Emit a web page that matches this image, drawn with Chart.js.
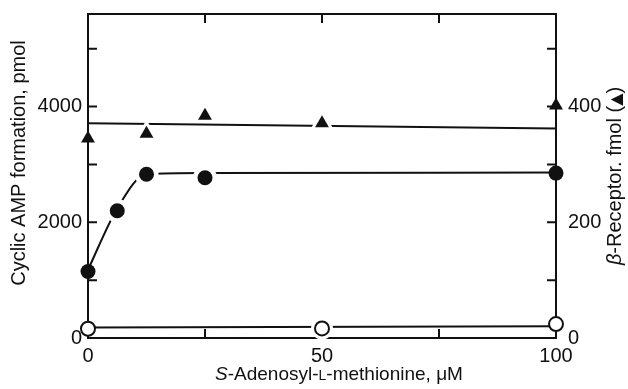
<!DOCTYPE html>
<html><head><meta charset="utf-8">
<script src="https://cdn.jsdelivr.net/npm/chart.js@4/dist/chart.umd.min.js"></script>
<style>html,body{margin:0;padding:0;background:#fff}</style>
</head><body>
<canvas id="c" width="628" height="389"></canvas>
<script>
// ---- data ----
const concX = [0, 6.25, 12.5, 25, 100];          // S-Adenosyl-L-methionine, µM (filled circles)
const cAMP = [1150, 2200, 2830, 2770, 2850];      // cyclic AMP formation, pmol
const receptorX = [0, 12.5, 25, 50, 100];
const receptor = [345, 353, 384, 371, 402];       // β-receptor, fmol (triangles)
const basalX = [0, 50, 100];
const basal = [160, 165, 240];                    // open circles, pmol
const cAMPfitX = [0, 6.25, 12.5, 25, 100];
const cAMPfitY = [1180, 2240, 2830, 2850, 2860];
const receptorFitX = [0, 100];
const receptorFitY = [371, 362];
const basalFitX = [0, 100];
const basalFitY = [180, 205];
// ticks
const xTickVals = [0, 25, 50, 75, 100];
const xLabels = [0, 50, 100];
const yLeftTickVals = [0, 1000, 2000, 3000, 4000, 5000];
const yLeftLabels = [0, 2000, 4000];
const yRightTickVals = [0, 100, 200, 300, 400, 500];
const yRightLabels = [0, 200, 400];

const INK = '#111';
const FONT = 'Liberation Sans, Arial, sans-serif';
const pts = (xs, ys) => xs.map((x, i) => ({x, y: ys[i]}));
const inner = arr => arr.filter(p => p.x > 0 && p.x < 100);

const cAMPpts = pts(concX, cAMP);
const recPts = pts(receptorX, receptor);
const basalPts = pts(basalX, basal);

function drawRich(ctx, parts, cx, cy, angle) {
  ctx.save();
  ctx.translate(cx, cy);
  ctx.rotate(angle);
  ctx.textBaseline = 'alphabetic';
  ctx.textAlign = 'left';
  let total = 0;
  parts.forEach(p => { ctx.font = p.f; p.w = ctx.measureText(p.t).width; total += p.w; });
  let x = -total / 2;
  ctx.fillStyle = INK;
  parts.forEach(p => { ctx.font = p.f; ctx.fillText(p.t, x, 7); x += p.w; });
  ctx.restore();
}

const framePlugin = {
  id: 'frame',
  beforeDatasetsDraw(chart) {
    const {ctx, chartArea: a, scales} = chart;
    ctx.save();
    ctx.strokeStyle = INK; ctx.lineWidth = 2; ctx.lineCap = 'square';
    ctx.beginPath();
    ctx.moveTo(a.left, a.top); ctx.lineTo(a.right, a.top);
    ctx.lineTo(a.right, a.bottom); ctx.lineTo(a.left, a.bottom); ctx.closePath();
    ctx.stroke();
    const L = 9;
    ctx.lineCap = 'butt';
    ctx.beginPath();
    xTickVals.forEach(v => {
      if (v > scales.x.min && v < scales.x.max) {
        const p = scales.x.getPixelForValue(v);
        ctx.moveTo(p, a.bottom); ctx.lineTo(p, a.bottom - L);
        ctx.moveTo(p, a.top); ctx.lineTo(p, a.top + L);
      }
    });
    yLeftTickVals.forEach(v => {
      if (v > scales.y.min && v < scales.y.max) {
        const p = scales.y.getPixelForValue(v);
        ctx.moveTo(a.left, p); ctx.lineTo(a.left + L, p);
      }
    });
    yRightTickVals.forEach(v => {
      if (v > scales.y2.min && v < scales.y2.max) {
        const p = scales.y2.getPixelForValue(v);
        ctx.moveTo(a.right, p); ctx.lineTo(a.right - L, p);
      }
    });
    ctx.stroke();
    ctx.restore();
  },
  afterDraw(chart) {
    const ctx = chart.ctx;
    const reg = '20px ' + FONT, ital = 'italic 20px ' + FONT;
    const reg19 = '19px ' + FONT, ital19 = 'italic 19px ' + FONT;
    drawRich(ctx, [{t: 'Cyclic AMP formation, pmol', f: reg}], 18, 163, -Math.PI / 2);
    drawRich(ctx, [{t: 'β', f: ital}, {t: '-Receptor. fmol (', f: reg}, {t: '▲', f: '16px DejaVu Sans'}, {t: ')', f: reg}], 614, 176, -Math.PI / 2);
    drawRich(ctx, [{t: 'S', f: ital19}, {t: '-Adenosyl-', f: reg19}, {t: 'L', f: '14px ' + FONT}, {t: '-methionine, ', f: reg19}, {t: 'μ', f: reg19}, {t: 'M', f: reg19}], 339, 373, 0);
  }
};

const lineDS = (data, axis, extra) => Object.assign({
  data, yAxisID: axis, showLine: true, borderColor: INK, borderWidth: 2,
  pointRadius: 0, fill: false, order: 5, clip: false
}, extra || {});
const haloDS = (data, axis, style, r) => ({
  data, yAxisID: axis, showLine: false, pointStyle: style, pointRadius: r,
  pointBackgroundColor: '#fff', pointBorderWidth: 0, order: 3, clip: false
});
const markDS = (data, axis, style, r, fillCol, bw) => ({
  data, yAxisID: axis, showLine: false, pointStyle: style, pointRadius: r,
  pointBackgroundColor: fillCol, pointBorderColor: INK, pointBorderWidth: bw, order: 1, clip: false
});

const xFont = {family: FONT, size: 20};
const yFont = {family: FONT, size: 20, lineHeight: 0.1};
const setTicks = vals => s => { s.ticks = vals.map(v => ({value: v})); };
const lab = list => v => list.includes(v) ? String(v) : null;

new Chart(document.getElementById('c'), {
  type: 'scatter',
  data: {
    datasets: [
      lineDS(pts(cAMPfitX, cAMPfitY), 'y', {cubicInterpolationMode: 'monotone'}),
      lineDS(pts(receptorFitX, receptorFitY), 'y2'),
      lineDS(pts(basalFitX, basalFitY), 'y'),
      haloDS(inner(cAMPpts), 'y', 'circle', 12),
      haloDS(inner(recPts), 'y2', 'triangle', 14),
      haloDS(inner(basalPts), 'y', 'circle', 11),
      markDS(cAMPpts, 'y', 'circle', 7.5, INK, 0),
      markDS(recPts, 'y2', 'triangle', 8, INK, 0),
      markDS(basalPts, 'y', 'circle', 7, '#fff', 2)
    ]
  },
  options: {
    responsive: false, animation: false, devicePixelRatio: 1,
    layout: {padding: {top: 14, left: 0, right: 0, bottom: 0}},
    plugins: {legend: {display: false}, tooltip: {enabled: false}},
    scales: {
      x: {
        type: 'linear', position: 'bottom', min: 0, max: 100,
        grid: {display: false, drawTicks: false}, border: {display: false},
        afterBuildTicks: setTicks(xTickVals),
        ticks: {autoSkip: false, padding: 6, color: INK, font: xFont, maxRotation: 0, callback: lab(xLabels)},
        afterFit: s => { s.height = 51; }
      },
      y: {
        type: 'linear', position: 'left', min: 0, max: 5600,
        grid: {display: false, drawTicks: false}, border: {display: false},
        afterBuildTicks: setTicks(yLeftTickVals),
        ticks: {autoSkip: false, padding: 6, color: INK, font: yFont, callback: lab(yLeftLabels)},
        afterFit: s => { s.width = 88; }
      },
      y2: {
        type: 'linear', position: 'right', min: 0, max: 560,
        grid: {display: false, drawTicks: false}, border: {display: false},
        afterBuildTicks: setTicks(yRightTickVals),
        ticks: {autoSkip: false, padding: 12, color: INK, font: yFont, callback: lab(yRightLabels)},
        afterFit: s => { s.width = 72; }
      }
    }
  },
  plugins: [framePlugin]
});
</script>
</body></html>
